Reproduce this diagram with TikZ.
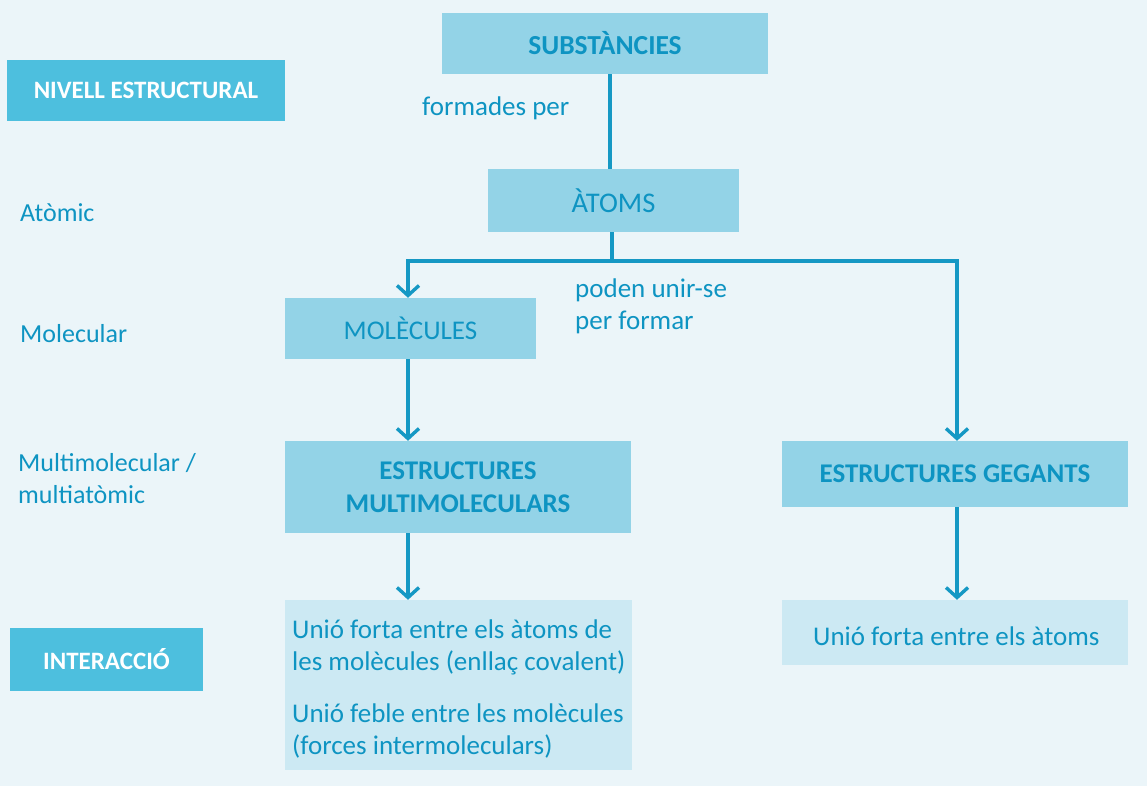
\documentclass[tikz,border=0pt]{standalone}
\usepackage{fontspec}
\setmainfont{Carlito}
\usetikzlibrary{arrows.meta}
\definecolor{bg}{HTML}{EBF5F9}
\definecolor{midbox}{HTML}{93D3E7}
\definecolor{headbox}{HTML}{4DBFDE}
\definecolor{lightbox}{HTML}{CCE9F3}
\definecolor{txt}{HTML}{0E94C2}
\definecolor{linec}{HTML}{1598C4}
\tikzset{
  x=1pt,y=-1pt,
  boxmid/.style={fill=midbox,inner sep=0pt,text=txt,font=\fontsize{27}{32}\selectfont,align=center},
  boxhead/.style={fill=headbox,inner sep=0pt,text=white,font=\fontsize{25}{30}\selectfont\bfseries},
  boxlight/.style={fill=lightbox,inner sep=0pt},
  lbl/.style={text=txt,font=\fontsize{27}{32}\selectfont,anchor=west,inner sep=0pt,align=left},
  conn/.style={draw=linec,line width=3.4pt},
  arr/.style={conn,-{Straight Barb[length=10pt,width=22pt,line width=3.4pt]}},
}
\begin{document}
\begin{tikzpicture}
\fill[bg] (0,0) rectangle (1147,786);
\useasboundingbox (0,0) rectangle (1147,786);
% left column
\node[boxhead,minimum width=278pt,minimum height=61pt] (nivell) at (146,90.5) {NIVELL ESTRUCTURAL};
\node[lbl,font=\fontsize{26}{32}\selectfont] (atomic) at (20,213) {Atòmic};
\node[lbl,font=\fontsize{26}{32}\selectfont] (molecular) at (20,334) {Molecular};
\node[lbl,font=\fontsize{26}{32}\selectfont] (multi) at (18,479) {Multimolecular /\\multiatòmic};
\node[boxhead,minimum width=193pt,minimum height=63pt] (inter) at (106.5,659.5) {INTERACCIÓ};
% main boxes
\node[boxmid,minimum width=326pt,minimum height=61pt,font=\fontsize{27.5}{32}\selectfont\bfseries] (subst) at (605,43.5) {SUBSTÀNCIES};
\node[lbl] (formades) at (422,108) {formades per};
\node[boxmid,minimum width=251pt,minimum height=63pt,font=\fontsize{28.5}{32}\selectfont] (atoms) at (613.5,200.5) {ÀTOMS};
\node[boxmid,minimum width=251pt,minimum height=61pt] (mol) at (410.5,328.5) {MOLÈCULES};
\node[lbl] (poden) at (575,306) {poden unir-se\\per formar};
\node[boxmid,minimum width=346pt,minimum height=92pt,font=\fontsize{27}{33}\selectfont\bfseries] (emm) at (458,487) {ESTRUCTURES\\MULTIMOLECULARS};
\node[boxmid,minimum width=346pt,minimum height=66pt,font=\fontsize{27}{32}\selectfont\bfseries] (geg) at (955,474) {ESTRUCTURES GEGANTS};
\node[boxlight,minimum width=347pt,minimum height=170pt] (intL) at (458.5,685) {};
\node[lbl] (intLa) at (292,647) {Unió forta entre els àtoms de\\les molècules (enllaç covalent)};
\node[lbl] (intLb) at (292,731) {Unió feble entre les molècules\\(forces intermoleculars)};
\node[boxlight,minimum width=346pt,minimum height=65pt] (intR) at (955,632.5) {};
\node[lbl] (intRt) at (813,636) {Unió forta entre els àtoms};
% connectors
\draw[conn] (subst.south -| 610,0) -- (atoms.north -| 610,0);
\coordinate (br) at (612,261);
\draw[conn] (atoms.south -| br) -- (br);
\coordinate (brL) at (408,261);
\coordinate (brR) at (957,261);
\draw[conn,line cap=rect] (brL) -- (brR);
\draw[arr] (brL) -- (brL |- mol.north);
\draw[arr] (brR) -- (brR |- geg.north);
\draw[arr] (brL |- mol.south) -- (brL |- emm.north);
\draw[arr] (brL |- emm.south) -- (brL |- intL.north);
\draw[arr] (brR |- geg.south) -- (brR |- intR.north);
\end{tikzpicture}
\end{document}
